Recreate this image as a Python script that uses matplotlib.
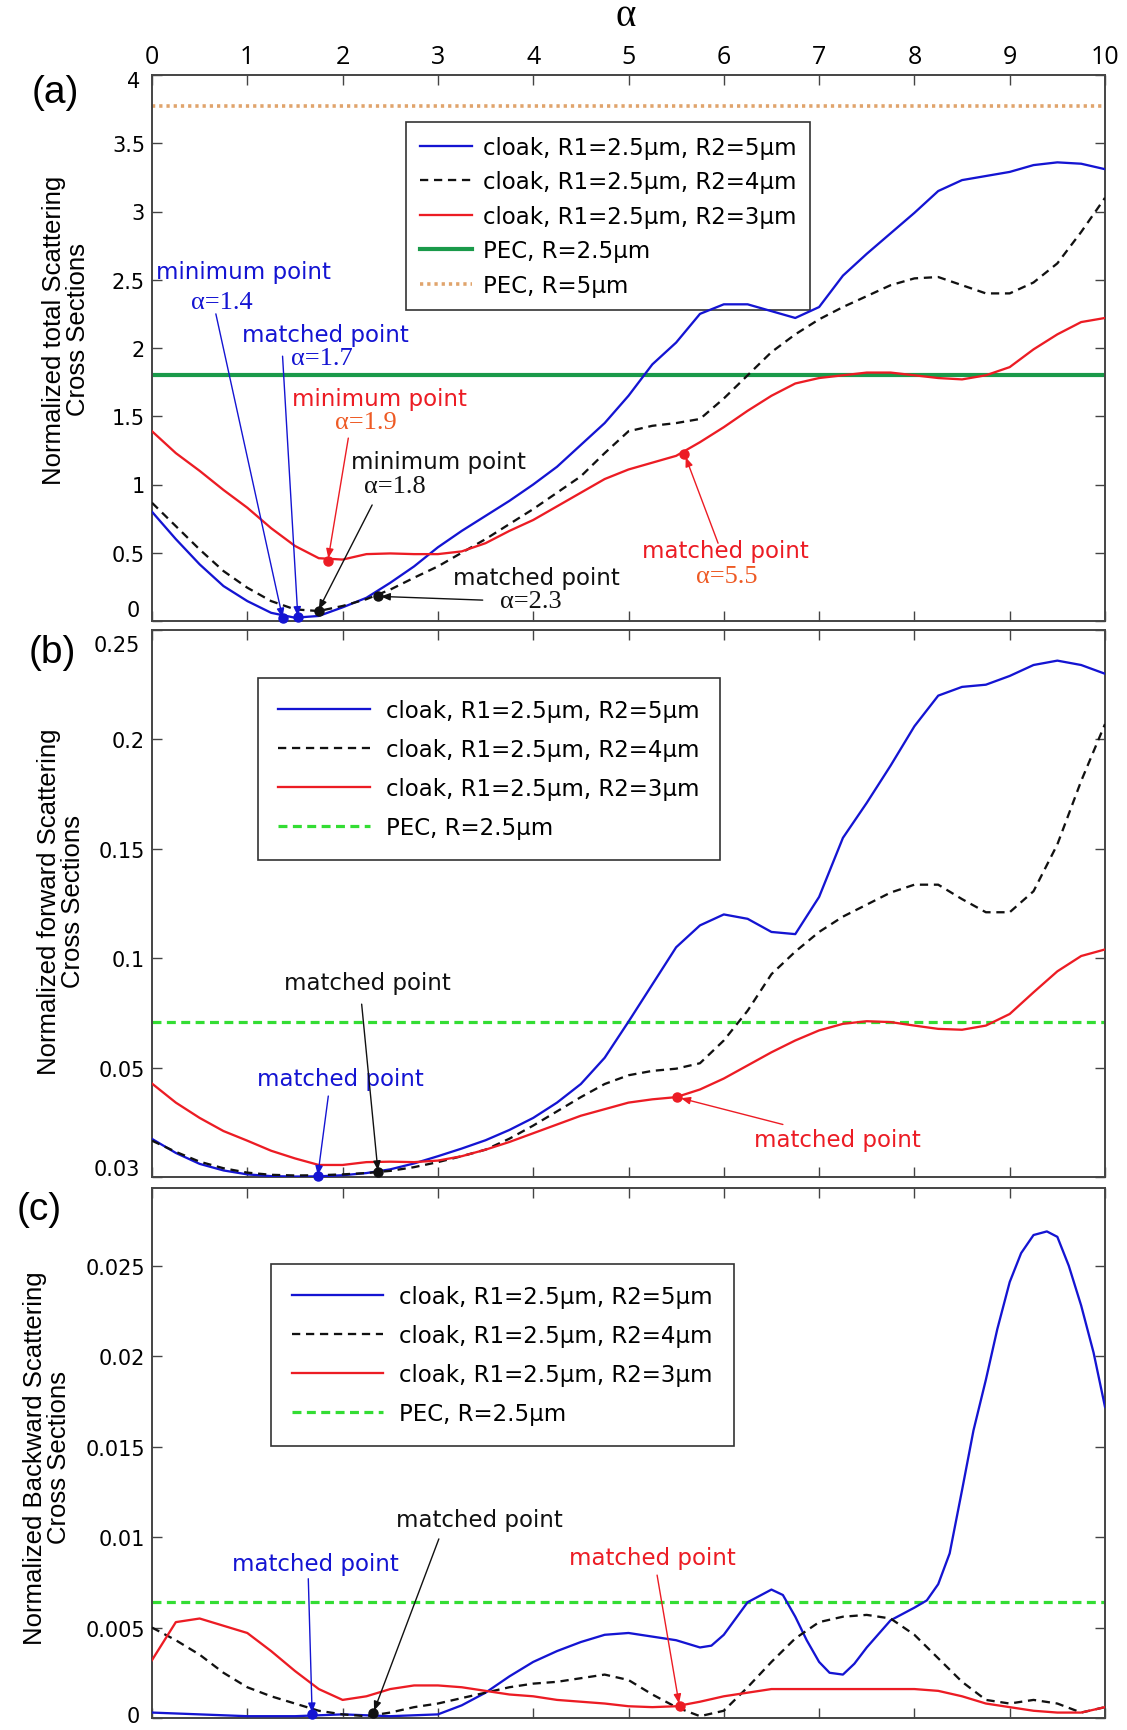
import matplotlib
matplotlib.use('Agg')
import matplotlib.pyplot as plt
import matplotlib.transforms as mtransforms
from matplotlib.lines import Line2D

# ---------------- data ----------------
alpha = [0, 0.25, 0.5, 0.75, 1, 1.25, 1.5, 1.75, 2, 2.25, 2.5, 2.75, 3, 3.25, 3.5, 3.75,
         4, 4.25, 4.5, 4.75, 5, 5.25, 5.5, 5.75, 6, 6.25, 6.5, 6.75, 7, 7.25, 7.5, 7.75,
         8, 8.25, 8.5, 8.75, 9, 9.25, 9.5, 9.75, 10]

series_labels = ["cloak, R1=2.5\u03bcm, R2=5\u03bcm",
                 "cloak, R1=2.5\u03bcm, R2=4\u03bcm",
                 "cloak, R1=2.5\u03bcm, R2=3\u03bcm",
                 "PEC, R=2.5\u03bcm",
                 "PEC, R=5\u03bcm"]

# (a) normalized total scattering cross sections
total_R5 = [0.80, 0.60, 0.415, 0.256, 0.146, 0.06, 0.024, 0.037, 0.10, 0.17, 0.28, 0.40, 0.54,
            0.66, 0.77, 0.88, 1.00, 1.13, 1.29, 1.45, 1.65,
            1.88, 2.04, 2.25, 2.32, 2.32, 2.27, 2.22, 2.30, 2.53, 2.69, 2.84, 2.99, 3.15, 3.23,
            3.26, 3.29, 3.34, 3.36, 3.35, 3.31]
total_R4 = [0.866, 0.695, 0.524, 0.366, 0.244, 0.146, 0.085, 0.073, 0.11, 0.16, 0.23, 0.317, 0.40,
            0.50, 0.60, 0.71, 0.82, 0.94, 1.06, 1.23, 1.39,
            1.43, 1.45, 1.48, 1.63, 1.80, 1.97, 2.10, 2.21, 2.30, 2.38, 2.46, 2.51, 2.52, 2.46,
            2.40, 2.40, 2.48, 2.62, 2.85, 3.10]
total_R3 = [1.39, 1.23, 1.10, 0.96, 0.83, 0.68, 0.55, 0.46, 0.45, 0.49, 0.495, 0.49, 0.49, 0.51,
            0.57, 0.66, 0.74, 0.84, 0.94, 1.04, 1.11,
            1.16, 1.21, 1.31, 1.42, 1.54, 1.65, 1.74, 1.78, 1.80, 1.82, 1.82, 1.80, 1.78, 1.77,
            1.80, 1.86, 1.99, 2.10, 2.19, 2.22]
total_pec25 = 1.80
total_pec5 = 3.77

# (b) normalized forward scattering cross sections
fwd_R5 = [0.0174, 0.011, 0.006, 0.003, 0.0012, 0.0004, 0.0002, 0.0003, 0.0008, 0.0018, 0.0035,
          0.0062, 0.0095, 0.013, 0.0168, 0.0215, 0.027, 0.034, 0.0425, 0.0545, 0.071,
          0.088, 0.105, 0.115, 0.120, 0.118, 0.112, 0.111, 0.128, 0.155, 0.171, 0.188, 0.206,
          0.220, 0.224, 0.225, 0.229, 0.234, 0.236, 0.234, 0.230]
fwd_R4 = [0.0166, 0.0115, 0.007, 0.004, 0.002, 0.001, 0.0007, 0.0008, 0.0012, 0.0018, 0.0028,
          0.0045, 0.0068, 0.0095, 0.0125, 0.0175, 0.0235, 0.030, 0.0365, 0.0425, 0.0465,
          0.0485, 0.0495, 0.052, 0.0624, 0.076, 0.0927, 0.103, 0.112, 0.119, 0.1245, 0.130,
          0.1336, 0.1336, 0.127, 0.121, 0.121, 0.1306, 0.152, 0.181, 0.207]
fwd_R3 = [0.0427, 0.034, 0.027, 0.021, 0.0166, 0.012, 0.0085, 0.0055, 0.0055, 0.0068, 0.007,
          0.0068, 0.0075, 0.0095, 0.0125, 0.016, 0.020, 0.024, 0.028, 0.031, 0.034,
          0.0355, 0.0365, 0.040, 0.045, 0.051, 0.057, 0.0624, 0.067, 0.070, 0.0712, 0.0708,
          0.0692, 0.0677, 0.0673, 0.0692, 0.0745, 0.0844, 0.094, 0.101, 0.104]
fwd_pec25 = 0.0707

# (c) normalized backward scattering cross sections
alpha_bwd_R5 = [0, 0.5, 1, 1.5, 2, 2.5, 3, 3.25, 3.5, 3.75, 4, 4.25, 4.5, 4.75, 5, 5.25, 5.5,
                5.75, 5.87, 6, 6.25, 6.5, 6.62, 6.75, 6.87, 7, 7.11, 7.25, 7.37, 7.5, 7.75, 8,
                8.13, 8.25, 8.37, 8.5, 8.62, 8.75, 8.87, 9, 9.12, 9.25, 9.39, 9.5, 9.62, 9.75,
                9.88, 10]
bwd_R5 = [0.0003, 0.0002, 0.0001, 0.0001, 0.0002, 0.0001, 0.0002, 0.0007, 0.0014, 0.0023, 0.0031,
          0.0037, 0.0042, 0.0046, 0.0047, 0.0045, 0.0043, 0.0039, 0.0040, 0.0046, 0.0064, 0.0071,
          0.0068, 0.0056, 0.0043, 0.0031, 0.0025, 0.0024, 0.0030, 0.0039, 0.0054, 0.0061, 0.0065,
          0.0074, 0.0091, 0.0126, 0.0159, 0.0187, 0.0215, 0.0241, 0.0257, 0.0267, 0.0269,
          0.0266, 0.0250, 0.0228, 0.0202, 0.0172]
bwd_R4 = [0.0050, 0.0043, 0.0035, 0.0025, 0.0017, 0.0012, 0.0008, 0.0004, 0.0002, 0.0001, 0.0003,
          0.0006, 0.0008, 0.0011, 0.0014, 0.0017, 0.0019, 0.0020, 0.0022, 0.0024, 0.0021,
          0.0013, 0.0006, 0.0001, 0.0004, 0.0017, 0.0031, 0.0044, 0.0053, 0.0056, 0.0057,
          0.0055, 0.0046, 0.0033, 0.0020, 0.0010, 0.0008, 0.0010, 0.0008, 0.0003, 0.0006]
bwd_R3 = [0.0032, 0.0053, 0.0055, 0.0051, 0.0047, 0.0037, 0.0026, 0.0016, 0.0010, 0.0012, 0.0016,
          0.0018, 0.0018, 0.0017, 0.0015, 0.0013, 0.0012, 0.0010, 0.0009, 0.0008, 0.00065,
          0.0006, 0.00065, 0.0009, 0.0012, 0.0014, 0.0016, 0.0016, 0.0016, 0.0016, 0.0016,
          0.0016, 0.0016, 0.0015, 0.0012, 0.0008, 0.0006, 0.0004, 0.0003, 0.0003, 0.0006]
bwd_pec25 = 0.0064

# marked points (alpha, value, series index)
marks_a_x = [1.37, 1.53, 1.75, 1.85, 2.37, 5.58]
marks_a_y = [0.024, 0.03, 0.075, 0.44, 0.18, 1.22]
marks_a_c = [0, 0, 1, 2, 1, 2]
marks_b_x = [1.74, 2.37, 5.51]
marks_b_y = [0.0003, 0.0025, 0.0365]
marks_b_c = [0, 1, 2]
marks_c_x = [1.68, 2.32, 5.54]
marks_c_y = [0.0002, 0.0003, 0.00065]
marks_c_c = [0, 1, 2]

xticks = list(range(0, 11))
yticks_a = [0, 0.5, 1, 1.5, 2, 2.5, 3, 3.5, 4]
ylabels_a = ["0", "0.5", "1", "1.5", "2", "2.5", "3", "3.5", "4"]
yticks_b = [0, 0.05, 0.1, 0.15, 0.2, 0.25]
ylabels_b = ["0.03", "0.05", "0.1", "0.15", "0.2", "0.25"]
yticks_c = [0, 0.005, 0.01, 0.015, 0.02, 0.025]
ylabels_c = ["0", "0.005", "0.01", "0.015", "0.02", "0.025"]

# ---------------- style ----------------
W, H = 1127, 1731
BLUE = '#1414d2'
BLACK = '#111111'
RED = '#ec1c24'
GREEN_A = '#1a9a4a'
GREEN_BC = '#33dd33'
ORANGE = '#e0a46c'
ORANGE_TXT = '#ee5a24'
SPINE = '#444444'
curve_colors = [BLUE, BLACK, RED]
SANS = 'DejaVu Sans'
ARIAL = 'Liberation Sans'
SERIF = 'Liberation Serif'

fig = plt.figure(figsize=(W / 100, H / 100), dpi=100)


def px_rect(top, bottom, left=152, right=1105):
    return [left / W, 1 - bottom / H, (right - left) / W, (bottom - top) / H]


ax_a = fig.add_axes(px_rect(76, 622))
ax_b = fig.add_axes(px_rect(631, 1178))
ax_c = fig.add_axes(px_rect(1189, 1719))

dash_k = (0, (3.6, 2.5))
dash_g = (0, (2.8, 1.7))
LW = 1.65

# ---- curves ----
ax_a.plot(alpha, total_R5, color=BLUE, lw=LW, zorder=3)
ax_a.plot(alpha, total_R4, color=BLACK, lw=LW, ls=dash_k, zorder=3)
ax_a.plot(alpha, total_R3, color=RED, lw=LW, zorder=3)
ax_a.axhline(total_pec25, color=GREEN_A, lw=3.0, zorder=2)
ax_a.axhline(total_pec5, color=ORANGE, lw=2.6, ls=(0, (0.9, 1.1)), zorder=2)

ax_b.plot(alpha, fwd_R5, color=BLUE, lw=LW, zorder=3)
ax_b.plot(alpha, fwd_R4, color=BLACK, lw=LW, ls=dash_k, zorder=3)
ax_b.plot(alpha, fwd_R3, color=RED, lw=LW, zorder=3)
ax_b.axhline(fwd_pec25, color=GREEN_BC, lw=2.3, ls=dash_g, zorder=2)

ax_c.plot(alpha_bwd_R5, bwd_R5, color=BLUE, lw=LW, zorder=3)
ax_c.plot(alpha, bwd_R4, color=BLACK, lw=LW, ls=dash_k, zorder=3)
ax_c.plot(alpha, bwd_R3, color=RED, lw=LW, zorder=3)
ax_c.axhline(bwd_pec25, color=GREEN_BC, lw=2.3, ls=dash_g, zorder=2)

for ax, mx, my, mc in [(ax_a, marks_a_x, marks_a_y, marks_a_c),
                       (ax_b, marks_b_x, marks_b_y, marks_b_c),
                       (ax_c, marks_c_x, marks_c_y, marks_c_c)]:
    for x, y, c in zip(mx, my, mc):
        ax.plot([x], [y], 'o', color=curve_colors[c], ms=6.5, zorder=6, clip_on=False)

# edge tick labels that sit a little off their tick in the original
shifted = {'a': {0: 11, 8: -6}, 'b': {0: 8, 5: -15}, 'c': {0: 2}}

def setup_axis(ax, key, lim, yt, yl):
    ax.set_xlim(0, 10)
    ax.set_ylim(*lim)
    ax.set_xticks(xticks)
    shown = ['' if i in shifted[key] else t for i, t in enumerate(yl)]
    ax.set_yticks(yt)
    ax.set_yticklabels(shown, family=SANS, fontsize=15)
    ax.tick_params(axis='both', direction='in', length=7, width=1.0, color=SPINE,
                   top=True, right=True, bottom=True, left=True, pad=5)
    for s in ax.spines.values():
        s.set_color(SPINE)
        s.set_linewidth(1.4)
    for i, dy in shifted[key].items():
        tr = mtransforms.blended_transform_factory(ax.transAxes, ax.transData) + \
            mtransforms.ScaledTranslation(-12 / 100, dy / 100, fig.dpi_scale_trans)
        ax.text(0, yt[i], yl[i], transform=tr, ha='right', va='center',
                family=SANS, fontsize=15, clip_on=False)

setup_axis(ax_a, 'a', (0, 4), yticks_a, ylabels_a)
setup_axis(ax_b, 'b', (0, 0.25), yticks_b, ylabels_b)
setup_axis(ax_c, 'c', (0, 0.0293), yticks_c, ylabels_c)

ax_a.tick_params(axis='x', labeltop=True, labelbottom=False, pad=4)
ax_a.set_xticklabels([str(v) for v in xticks], family='Open Sans', fontsize=18)
ax_b.tick_params(axis='x', labelbottom=False)
ax_c.tick_params(axis='x', labelbottom=False)

# ---- legends (drawn beneath the curves, as in the original) ----
def handles(extra):
    h = [Line2D([], [], color=BLUE, lw=LW),
         Line2D([], [], color=BLACK, lw=LW, ls=dash_k),
         Line2D([], [], color=RED, lw=LW)]
    return h + extra

hand_a = handles([Line2D([], [], color=GREEN_A, lw=3.0),
                  Line2D([], [], color=ORANGE, lw=2.6, ls=(0, (0.9, 1.1)))])
leg = ax_a.legend(hand_a, series_labels, loc='upper left', bbox_to_anchor=(0.2665, 0.914),
                  borderaxespad=0, prop={'family': SANS, 'size': 16.5}, handlelength=2.3,
                  handletextpad=0.45, labelspacing=0.5, borderpad=0.6, fancybox=False,
                  edgecolor='#333333', framealpha=1)
leg.get_frame().set_linewidth(1.2)
leg.set_zorder(2.5)

hand_bc = handles([Line2D([], [], color=GREEN_BC, lw=2.3, ls=dash_g)])
for ax, anchor in [(ax_b, (0.111, 0.912)), (ax_c, (0.125, 0.856))]:
    lg = ax.legend(hand_bc, series_labels[:4], loc='upper left', bbox_to_anchor=anchor,
                   borderaxespad=0, prop={'family': SANS, 'size': 16.5}, handlelength=4.0,
                   handletextpad=0.7, labelspacing=0.7, borderpad=0.9, fancybox=False,
                   edgecolor='#333333', framealpha=1)
    lg.get_frame().set_linewidth(1.2)
    lg.set_zorder(2.5)

# ---- annotations ----
ann_a = [("minimum point", 0.96, 2.56, BLUE, SANS),
         ("\u03b1=1.4", 0.73, 2.34, BLUE, SERIF),
         ("matched point", 1.82, 2.10, BLUE, SANS),
         ("\u03b1=1.7", 1.78, 1.93, BLUE, SERIF),
         ("minimum point", 2.39, 1.63, RED, SANS),
         ("\u03b1=1.9", 2.24, 1.46, ORANGE_TXT, SERIF),
         ("minimum point", 3.01, 1.17, BLACK, SANS),
         ("\u03b1=1.8", 2.55, 0.99, BLACK, SERIF),
         ("matched point", 4.03, 0.32, BLACK, SANS),
         ("\u03b1=2.3", 3.97, 0.15, BLACK, SERIF),
         ("matched point", 6.02, 0.52, RED, SANS),
         ("\u03b1=5.5", 6.03, 0.33, ORANGE_TXT, SERIF)]
arr_a = [(0.67, 2.25, 1.37, 0.024, BLUE),
         (1.37, 1.94, 1.53, 0.035, BLUE),
         (2.06, 1.34, 1.85, 0.46, RED),
         (2.31, 0.85, 1.75, 0.085, BLACK),
         (3.47, 0.153, 2.40, 0.18, BLACK),
         (5.94, 0.57, 5.60, 1.20, RED)]
ann_b = [("matched point", 2.26, 0.089, BLACK, SANS),
         ("matched point", 1.98, 0.0448, BLUE, SANS),
         ("matched point", 7.19, 0.017, RED, SANS)]
arr_b = [(2.2, 0.079, 2.37, 0.003, BLACK),
         (1.85, 0.037, 1.74, 0.0008, BLUE),
         (6.62, 0.024, 5.55, 0.036, RED)]
ann_c = [("matched point", 3.44, 0.011, BLACK, SANS),
         ("matched point", 1.71, 0.00856, BLUE, SANS),
         ("matched point", 5.25, 0.00885, RED, SANS)]
arr_c = [(3.01, 0.0099, 2.33, 0.0004, BLACK),
         (1.64, 0.0077, 1.68, 0.0003, BLUE),
         (5.30, 0.0079, 5.53, 0.0008, RED)]

for ax, anns, arrs in [(ax_a, ann_a, arr_a), (ax_b, ann_b, arr_b), (ax_c, ann_c, arr_c)]:
    for txt, x, y, c, fam in anns:
        ax.text(x, y, txt, color=c, family=fam, fontsize=(19 if fam == SERIF else 16.5),
                ha='center', va='center', zorder=7)
    for x0, y0, x1, y1, c in arrs:
        ax.annotate('', xy=(x1, y1), xytext=(x0, y0),
                    arrowprops=dict(arrowstyle='-|>,head_length=0.55,head_width=0.22',
                                    color=c, lw=1.0, shrinkA=0, shrinkB=0), zorder=7)

# ---- figure texts ----
fig.text(626 / W, 1 - 17 / H, "\u03b1", family=SERIF, fontsize=28, ha='center', va='center')
fig.text(55 / W, 1 - 93 / H, "(a)", family=ARIAL, fontsize=28, ha='center', va='center')
fig.text(52 / W, 1 - 653 / H, "(b)", family=ARIAL, fontsize=28, ha='center', va='center')
fig.text(39 / W, 1 - 1210 / H, "(c)", family=ARIAL, fontsize=28, ha='center', va='center')

ylab_kw = dict(rotation=90, ha='center', va='center', multialignment='center',
               family=ARIAL, fontsize=18.5, linespacing=1.05)
fig.text(66 / W, 1 - 330 / H, "Normalized total Scattering\nCross Sections", **ylab_kw)
fig.text(61 / W, 1 - 902 / H, "Normalized forward Scattering\nCross Sections", **ylab_kw)
fig.text(47 / W, 1 - 1458 / H, "Normalized Backward Scattering\nCross Sections", **ylab_kw)

fig.savefig('out.png', dpi=100)
